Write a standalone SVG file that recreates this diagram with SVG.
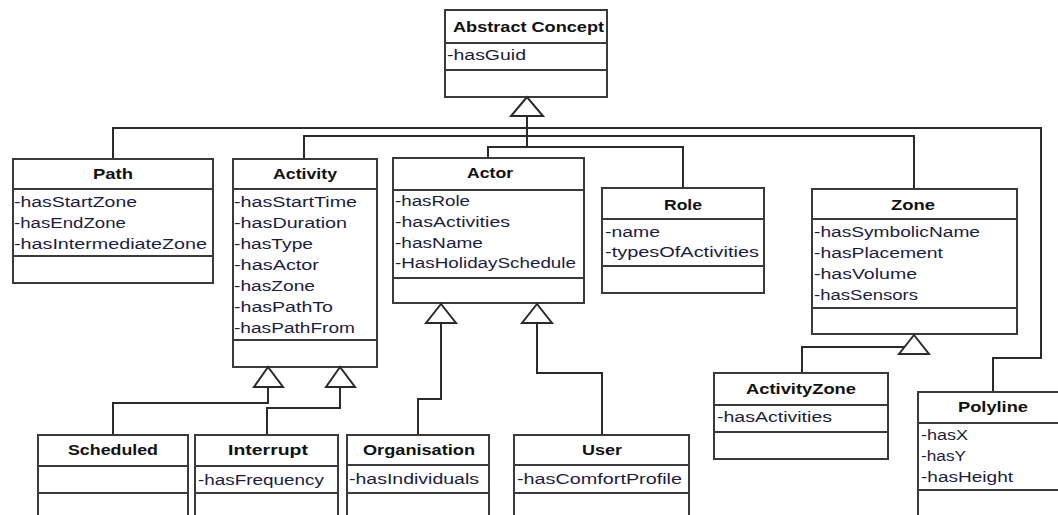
<svg xmlns="http://www.w3.org/2000/svg" width="1058" height="515" viewBox="0 0 1058 515">
<style>
.box{fill:#fff;stroke:#3a3a3a;stroke-width:2}
.sep{stroke:#3a3a3a;stroke-width:2}
.con{fill:none;stroke:#2a2a2a;stroke-width:2}
.tri{fill:#fff;stroke:#2a2a2a;stroke-width:2}
.t{font-family:"Liberation Sans",Arial,sans-serif;font-size:15px;font-weight:bold;fill:#111}
.a{font-family:"Liberation Sans",Arial,sans-serif;font-size:14px;fill:#1c1c40}
</style>
<rect width="1058" height="515" fill="#fff"/>
<g id="connectors">
<polyline class="con" points="113,159 113,128 1041,128 1041,358 993,358 993,392"/>
<polyline class="con" points="304,159 304,136 914,136 914,189"/>
<polyline class="con" points="527,116 527,147"/>
<polyline class="con" points="488,158 488,147 683,147 683,188"/>
<polyline class="con" points="802,373 802,347 914,347"/>
<polyline class="con" points="441,323 441,399 418,399 418,435"/>
<polyline class="con" points="537,323 537,373 602,373 602,435"/>
<polyline class="con" points="268,387 268,403 113,403 113,435"/>
<polyline class="con" points="340,387 340,408 267,408 267,435"/>
</g>
<g id="abstract-concept">
<rect class="box" x="445" y="10" width="162" height="87"/>
<line class="sep" x1="445" y1="43" x2="607" y2="43"/>
<line class="sep" x1="445" y1="70" x2="607" y2="70"/>
<text class="t" x="453" y="32" textLength="151" lengthAdjust="spacingAndGlyphs">Abstract Concept</text>
<text class="a" x="447" y="60" textLength="79" lengthAdjust="spacingAndGlyphs">-hasGuid</text>
<polygon class="tri" points="527,97 511,116 543,116"/>
</g>
<g id="path">
<rect class="box" x="13" y="159" width="200" height="124"/>
<line class="sep" x1="13" y1="189" x2="213" y2="189"/>
<line class="sep" x1="13" y1="256" x2="213" y2="256"/>
<text class="t" x="93" y="179" textLength="40" lengthAdjust="spacingAndGlyphs">Path</text>
<text class="a" x="14" y="207" textLength="123" lengthAdjust="spacingAndGlyphs">-hasStartZone</text>
<text class="a" x="14" y="228" textLength="112" lengthAdjust="spacingAndGlyphs">-hasEndZone</text>
<text class="a" x="14" y="249" textLength="193" lengthAdjust="spacingAndGlyphs">-hasIntermediateZone</text>
</g>
<g id="activity">
<rect class="box" x="233" y="159" width="144" height="208"/>
<line class="sep" x1="233" y1="189" x2="377" y2="189"/>
<line class="sep" x1="233" y1="340" x2="377" y2="340"/>
<text class="t" x="273" y="179" textLength="64" lengthAdjust="spacingAndGlyphs">Activity</text>
<text class="a" x="234" y="207" textLength="123" lengthAdjust="spacingAndGlyphs">-hasStartTime</text>
<text class="a" x="234" y="228" textLength="113" lengthAdjust="spacingAndGlyphs">-hasDuration</text>
<text class="a" x="234" y="249" textLength="79" lengthAdjust="spacingAndGlyphs">-hasType</text>
<text class="a" x="234" y="270" textLength="85" lengthAdjust="spacingAndGlyphs">-hasActor</text>
<text class="a" x="234" y="291" textLength="81" lengthAdjust="spacingAndGlyphs">-hasZone</text>
<text class="a" x="234" y="312" textLength="99" lengthAdjust="spacingAndGlyphs">-hasPathTo</text>
<text class="a" x="234" y="333" textLength="121" lengthAdjust="spacingAndGlyphs">-hasPathFrom</text>
<polygon class="tri" points="268,367 254,387 283,387"/>
<polygon class="tri" points="340,367 326,387 355,387"/>
</g>
<g id="actor">
<rect class="box" x="393" y="158" width="191" height="145"/>
<line class="sep" x1="393" y1="190" x2="584" y2="190"/>
<line class="sep" x1="393" y1="278" x2="584" y2="278"/>
<text class="t" x="467" y="178" textLength="46" lengthAdjust="spacingAndGlyphs">Actor</text>
<text class="a" x="395" y="206" textLength="75" lengthAdjust="spacingAndGlyphs">-hasRole</text>
<text class="a" x="395" y="227" textLength="115" lengthAdjust="spacingAndGlyphs">-hasActivities</text>
<text class="a" x="395" y="248" textLength="88" lengthAdjust="spacingAndGlyphs">-hasName</text>
<text class="a" x="395" y="268" textLength="181" lengthAdjust="spacingAndGlyphs">-HasHolidaySchedule</text>
<polygon class="tri" points="441,304 426,323 456,323"/>
<polygon class="tri" points="537,304 522,323 552,323"/>
</g>
<g id="role">
<rect class="box" x="602" y="188" width="162" height="105"/>
<line class="sep" x1="602" y1="219" x2="764" y2="219"/>
<line class="sep" x1="602" y1="266" x2="764" y2="266"/>
<text class="t" x="664" y="210" textLength="38" lengthAdjust="spacingAndGlyphs">Role</text>
<text class="a" x="605" y="237" textLength="55" lengthAdjust="spacingAndGlyphs">-name</text>
<text class="a" x="605" y="257" textLength="154" lengthAdjust="spacingAndGlyphs">-typesOfActivities</text>
</g>
<g id="zone">
<rect class="box" x="812" y="189" width="205" height="145"/>
<line class="sep" x1="812" y1="219" x2="1017" y2="219"/>
<line class="sep" x1="812" y1="308" x2="1017" y2="308"/>
<text class="t" x="891" y="210" textLength="44" lengthAdjust="spacingAndGlyphs">Zone</text>
<text class="a" x="814" y="237" textLength="166" lengthAdjust="spacingAndGlyphs">-hasSymbolicName</text>
<text class="a" x="814" y="258" textLength="129" lengthAdjust="spacingAndGlyphs">-hasPlacement</text>
<text class="a" x="814" y="279" textLength="103" lengthAdjust="spacingAndGlyphs">-hasVolume</text>
<text class="a" x="814" y="300" textLength="104" lengthAdjust="spacingAndGlyphs">-hasSensors</text>
<polygon class="tri" points="914,335 899,354 929,354"/>
</g>
<g id="activity-zone">
<rect class="box" x="714" y="373" width="174" height="86"/>
<line class="sep" x1="714" y1="405" x2="888" y2="405"/>
<line class="sep" x1="714" y1="432" x2="888" y2="432"/>
<text class="t" x="746" y="394" textLength="110" lengthAdjust="spacingAndGlyphs">ActivityZone</text>
<text class="a" x="717" y="422" textLength="115" lengthAdjust="spacingAndGlyphs">-hasActivities</text>
</g>
<g id="polyline">
<rect class="box" x="918" y="392" width="150" height="140"/>
<line class="sep" x1="918" y1="423" x2="1068" y2="423"/>
<line class="sep" x1="918" y1="490" x2="1068" y2="490"/>
<text class="t" x="958" y="412" textLength="70" lengthAdjust="spacingAndGlyphs">Polyline</text>
<text class="a" x="921" y="440" textLength="47" lengthAdjust="spacingAndGlyphs">-hasX</text>
<text class="a" x="921" y="461" textLength="45" lengthAdjust="spacingAndGlyphs">-hasY</text>
<text class="a" x="921" y="482" textLength="92" lengthAdjust="spacingAndGlyphs">-hasHeight</text>
</g>
<g id="scheduled">
<rect class="box" x="38" y="435" width="150" height="100"/>
<line class="sep" x1="38" y1="466" x2="188" y2="466"/>
<line class="sep" x1="38" y1="493" x2="188" y2="493"/>
<text class="t" x="68" y="455" textLength="90" lengthAdjust="spacingAndGlyphs">Scheduled</text>
</g>
<g id="interrupt">
<rect class="box" x="195" y="435" width="143" height="100"/>
<line class="sep" x1="195" y1="466" x2="338" y2="466"/>
<line class="sep" x1="195" y1="493" x2="338" y2="493"/>
<text class="t" x="228" y="455" textLength="80" lengthAdjust="spacingAndGlyphs">Interrupt</text>
<text class="a" x="198" y="485" textLength="126" lengthAdjust="spacingAndGlyphs">-hasFrequency</text>
</g>
<g id="organisation">
<rect class="box" x="347" y="435" width="142" height="100"/>
<line class="sep" x1="347" y1="465" x2="489" y2="465"/>
<line class="sep" x1="347" y1="493" x2="489" y2="493"/>
<text class="t" x="363" y="455" textLength="112" lengthAdjust="spacingAndGlyphs">Organisation</text>
<text class="a" x="349" y="484" textLength="130" lengthAdjust="spacingAndGlyphs">-hasIndividuals</text>
</g>
<g id="user">
<rect class="box" x="514" y="435" width="175" height="100"/>
<line class="sep" x1="514" y1="465" x2="689" y2="465"/>
<line class="sep" x1="514" y1="493" x2="689" y2="493"/>
<text class="t" x="582" y="455" textLength="40" lengthAdjust="spacingAndGlyphs">User</text>
<text class="a" x="517" y="484" textLength="165" lengthAdjust="spacingAndGlyphs">-hasComfortProfile</text>
</g>
</svg>
